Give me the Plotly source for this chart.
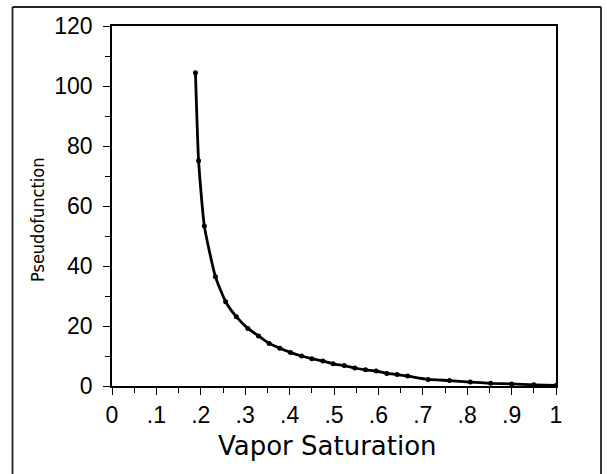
import plotly.graph_objects as go

# Data
vapor_saturation = [0.188, 0.195, 0.208, 0.233, 0.256, 0.280, 0.306, 0.330, 0.354, 0.378,
                    0.402, 0.427, 0.450, 0.475, 0.498, 0.523, 0.547, 0.571, 0.595, 0.619,
                    0.642, 0.666, 0.712, 0.760, 0.807, 0.853, 0.900, 0.950, 1.000]
pseudofunction = [104.4, 75.1, 53.3, 36.4, 28.1, 23.1, 19.2, 16.7, 14.2, 12.6,
                  11.2, 10.0, 9.1, 8.3, 7.4, 6.8, 6.0, 5.4, 5.0, 4.2,
                  3.8, 3.3, 2.2, 1.8, 1.3, 0.9, 0.7, 0.4, 0.2]

x_tick_vals = [0, 0.1, 0.2, 0.3, 0.4, 0.5, 0.6, 0.7, 0.8, 0.9, 1.0]
x_tick_text = ["0", ".1", ".2", ".3", ".4", ".5", ".6", ".7", ".8", ".9", "1"]
y_tick_vals = [0, 20, 40, 60, 80, 100, 120]
y_tick_text = ["0", "20", "40", "60", "80", "100", "120"]
x_title = "Vapor Saturation"
y_title = "Pseudofunction"

fig = go.Figure()
fig.add_trace(go.Scatter(
    x=vapor_saturation, y=pseudofunction, mode="lines+markers",
    line=dict(color="black", width=2.8, shape="spline", smoothing=0.5),
    marker=dict(color="black", size=5),
    showlegend=False,
))

L, R, T, B = 112, 51, 26, 88
W, H = 607, 474
pw, ph = W - L - R, H - T - B

tick_font = dict(family="Liberation Sans, Arial, sans-serif", size=23, color="black")

fig.update_layout(
    width=W, height=H,
    margin=dict(l=L, r=R, t=T, b=B, pad=0),
    paper_bgcolor="white", plot_bgcolor="white",
    xaxis=dict(
        range=[0, 1], tickvals=x_tick_vals, ticktext=x_tick_text,
        showgrid=False, zeroline=False, showline=True, linecolor="black", linewidth=1.5,
        mirror=True, ticks="outside", ticklen=7, tickwidth=1.2, tickcolor="black",
        minor=dict(dtick=0.05, ticks="outside", ticklen=5, tickwidth=1, tickcolor="black"),
        tickfont=tick_font, ticklabelstandoff=1,
        automargin=False,
    ),
    yaxis=dict(
        range=[0, 120], tickvals=y_tick_vals, ticktext=y_tick_text,
        showgrid=False, zeroline=False, showline=True, linecolor="black", linewidth=1.5,
        mirror=True, ticks="outside", ticklen=7, tickwidth=1.2, tickcolor="black",
        minor=dict(dtick=10, ticks="outside", ticklen=5, tickwidth=1, tickcolor="black"),
        tickfont=tick_font, ticklabelstandoff=6,
        automargin=False,
    ),
)

def px_x(p):
    return (p - L) / pw

def px_y(p):
    return (H - B - p) / ph

# axis titles placed as text annotations
fig.add_annotation(text=x_title, xref="paper", yref="paper", x=px_x(327), y=px_y(446),
                   showarrow=False, xanchor="center", yanchor="middle",
                   font=dict(family="DejaVu Sans, Liberation Sans, sans-serif", size=26, color="black"))
fig.add_annotation(text=y_title, xref="paper", yref="paper", x=px_x(37), y=px_y(220),
                   showarrow=False, xanchor="center", yanchor="middle", textangle=-90,
                   font=dict(family="Liberation Sans Narrow, DejaVu Sans Condensed, Arial Narrow, sans-serif",
                             size=18, color="black"))

# outer frame around the whole figure
x0, x1 = px_x(12.5), px_x(601)
y_top, y_bot = px_y(7), px_y(474)
frame = dict(type="line", xref="paper", yref="paper", line=dict(color="#222", width=1.8))
fig.add_shape(**frame, x0=x0, x1=x0, y0=y_bot, y1=y_top)
fig.add_shape(**frame, x0=x0, x1=x1, y0=y_top, y1=y_top)
fig.add_shape(**frame, x0=x1, x1=x1, y0=y_bot, y1=y_top)

fig.write_html("out.html")
